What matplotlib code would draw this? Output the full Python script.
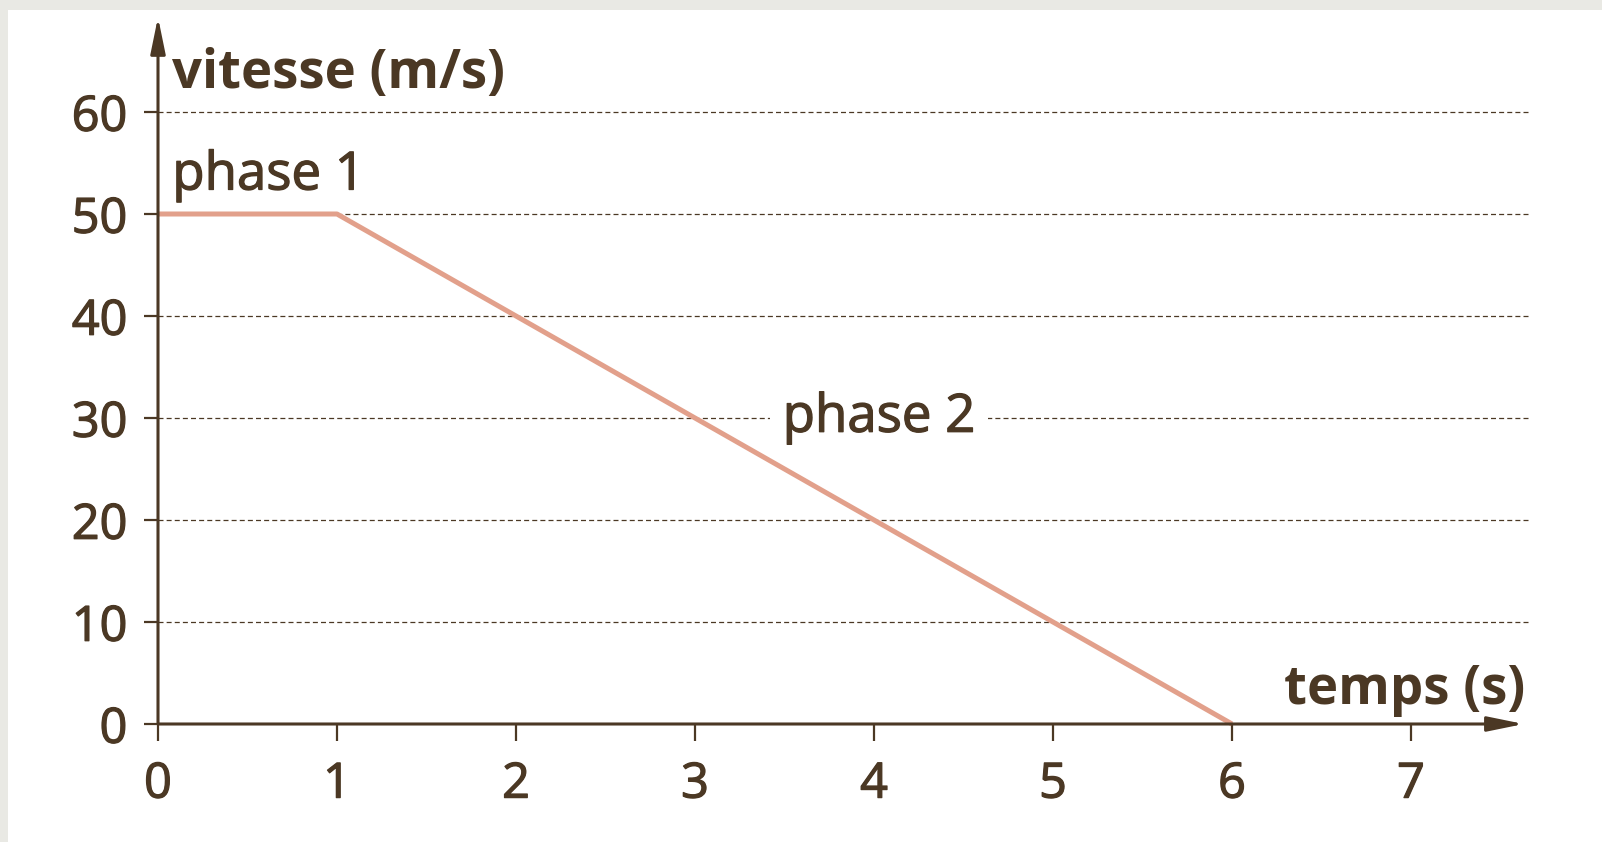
import numpy as np
import matplotlib
matplotlib.use('Agg')
import matplotlib.pyplot as plt
import matplotlib.patheffects as pe
from matplotlib.patches import Rectangle

# data
temps = [0, 1, 6]
vitesse = [50, 50, 0]
x_ticks = [0, 1, 2, 3, 4, 5, 6, 7]
y_ticks = [0, 10, 20, 30, 40, 50, 60]
grid_levels = [10, 20, 30, 40, 50, 60]

brown = '#4b3824'
salmon = '#e2a08b'

plt.rcParams['font.family'] = ['Open Sans', 'DejaVu Sans']

W, H = 1602, 842
fig = plt.figure(figsize=(W / 100, H / 100), dpi=100)
fig.patch.set_facecolor('#e9e9e4')
fig.patches.append(Rectangle((8 / W, 0), 1, (H - 10) / H, transform=fig.transFigure,
                             facecolor='white', edgecolor='none', zorder=-10))

# pixel mapping: x px = 158 + 179 * t, y px = 724 - 10.2 * v
x_px, x_unit = 158, 179
y_px, y_unit = 724, 10.2
xmax, ymax = 7.7, 68.5
ax = fig.add_axes([x_px / W, (H - y_px) / H, xmax * x_unit / W, ymax * y_unit / H])
ax.set_facecolor('none')
ax.set_xlim(0, xmax)
ax.set_ylim(0, ymax)
for s in ax.spines.values():
    s.set_visible(False)

# dashed horizontal grid
ax.hlines(grid_levels, 0, 7.67, colors=brown, linewidth=0.9,
          linestyles=(0, (4, 2.5)), zorder=1)

# axes with arrows
arrow = dict(arrowstyle='-|>,head_length=22,head_width=4.5', mutation_scale=1,
             lw=2.2, color=brown, shrinkA=0, shrinkB=0)
ax.annotate('', xy=(7.63, 0), xytext=(0, 0), arrowprops=arrow, annotation_clip=False, zorder=3)
ax.annotate('', xy=(0, 69.3), xytext=(0, 0), arrowprops=arrow, annotation_clip=False, zorder=3)

ax.plot(temps, vitesse, color=salmon, linewidth=3.6, solid_capstyle='butt', zorder=2, clip_on=False)

ax.set_xticks(x_ticks)
ax.set_yticks(y_ticks)
ax.tick_params(axis='x', length=12, width=1.6, color=brown, labelcolor=brown,
               labelsize=35, pad=14)
ax.tick_params(axis='y', length=10, width=1.6, color=brown, labelcolor=brown,
               labelsize=35, pad=12)

ink = [pe.withStroke(linewidth=0.9, foreground=brown)]
for lab in ax.get_xticklabels() + ax.get_yticklabels():
    lab.set_path_effects(ink)

ax.text(0.08, 62.4, 'vitesse (m/s)', fontsize=38, fontweight='bold', color=brown,
        ha='left', va='baseline')
ax.text(7.64, 2.0, 'temps (s)', fontsize=38, fontweight='bold', color=brown,
        ha='right', va='baseline')
ax.text(0.08, 52.4, 'phase 1', fontsize=38, color=brown, ha='left', va='baseline',
        path_effects=ink)
ax.text(3.49, 30, 'phase 2', fontsize=38, color=brown, ha='left', va='center',
        bbox=dict(boxstyle='square,pad=0.25', facecolor='white', edgecolor='none'),
        zorder=4, path_effects=ink)

fig.savefig('out.png', dpi=100, facecolor=fig.get_facecolor())
